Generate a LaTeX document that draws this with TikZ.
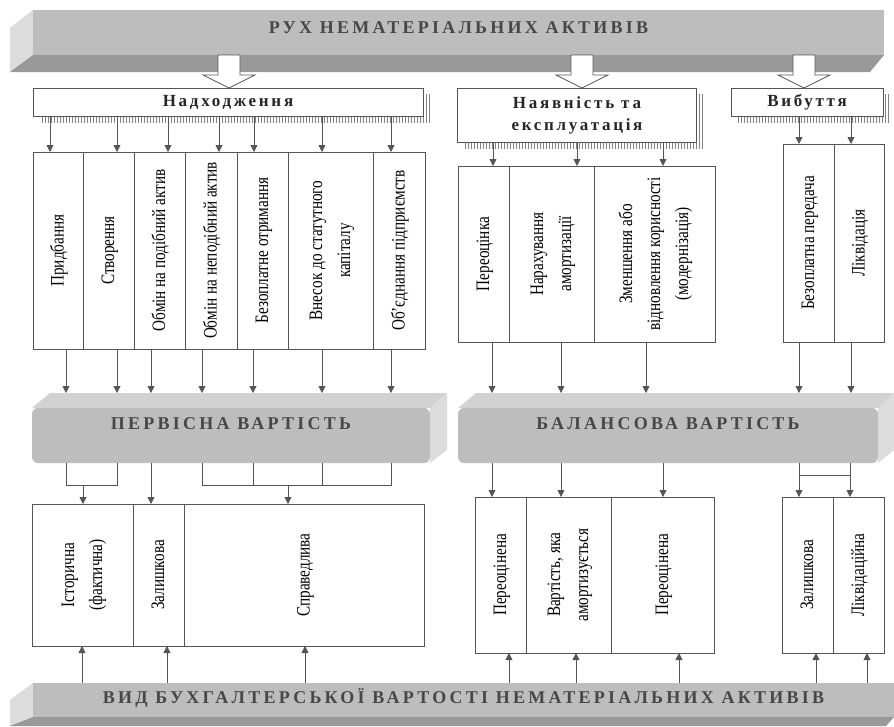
\documentclass[tikz,border=0pt]{standalone}
\usepackage{fontspec}
\usepackage{graphicx}
\setmainfont{Liberation Serif}
\newfontfamily\colfont[FakeStretch=0.8]{Liberation Serif}
\newfontfamily\barfont[LetterSpace=18]{Liberation Serif}
\newfontfamily\hdrfont[LetterSpace=16]{Liberation Serif}
\usetikzlibrary{arrows.meta,positioning,patterns,backgrounds}
\definecolor{linegray}{HTML}{555555}
\definecolor{barfront}{HTML}{BDBDBD}
\definecolor{bartop}{HTML}{D2D2D2}
\definecolor{barside}{HTML}{DCDCDC}
\definecolor{bardark}{HTML}{999999}
\newcommand{\vlabel}[1]{\rotatebox{90}{\begin{tabular}{@{}c@{}}#1\end{tabular}}}

\begin{document}
\begin{tikzpicture}[x=1pt,y=-1pt,
  arj/.style={draw=linegray,line width=0.8pt,-{Triangle[length=7pt,width=7pt]}},
  lnk/.style={draw=linegray,line width=0.8pt},
  cell/.style={draw=linegray,line width=0.8pt,fill=white,inner sep=0pt,outer sep=0pt,
    font=\colfont\fontsize{19}{28}\selectfont},
  hdr/.style={draw=linegray,line width=0.8pt,fill=white,inner sep=0pt,outer sep=0pt,
    align=center,font=\hdrfont\bfseries\fontsize{17}{22}\selectfont,text=black!85},
  hatch/.style={pattern=vertical lines,pattern color=gray},
  bar/.style={inner sep=0pt,outer sep=0pt,text=black!72,
    font=\barfont\bfseries\fontsize{18}{20}\selectfont},
  hollow/.style={draw=linegray,fill=white,line width=0.8pt}]
\useasboundingbox (0,0) rectangle (894,726);

% top banner
\fill[barside] (10,28) -- (33,10) -- (33,55) -- (10,72) -- cycle;
\fill[bardark] (33,55) -- (884,55) -- (870,72) -- (10,72) -- cycle;
\node[bar,fill=barfront,anchor=north west,minimum width=851pt,text height=23pt,text depth=22pt]
  (move) at (33,10) {РУХ НЕМАТЕРІАЛЬНИХ АКТИВІВ};

% headers
\node[hdr,minimum width=390pt,minimum height=28pt] (inflow) at (228,102) {Надходження};
\node[hdr,minimum width=239pt,minimum height=54pt] (usage) at (577,115) {Наявність та\\експлуатація};
\node[hdr,minimum width=152pt,minimum height=28pt] (outflow) at (807,102) {Вибуття};
\begin{scope}[on background layer]
  \foreach \h in {inflow,usage,outflow}
    \fill[hatch] ([shift={(7,6)}]\h.north west) rectangle ([shift={(7,6)}]\h.south east);
\end{scope}
\foreach \x/\t in {229/inflow,582/usage,804/outflow}
  \draw[hollow] (move.south -| \x,0) ++(-11,0) -- ++(22,0) -- ++(0,20) -- ++(15,0)
    -- (\t.north -| \x,0) -- ++(-26,-13) -- ++(15,0) -- cycle;

% upper columns
\node[cell,minimum width=50pt,minimum height=197pt,anchor=north west] (c1) at (33,152) {\vlabel{Придбання}};
\node[cell,minimum width=51pt,minimum height=197pt,right=0pt of c1] (c2) {\vlabel{Створення}};
\node[cell,minimum width=51pt,minimum height=197pt,right=0pt of c2] (c3) {\vlabel{Обмін на подібний актив}};
\node[cell,minimum width=52pt,minimum height=197pt,right=0pt of c3] (c4) {\vlabel{Обмін на неподібний актив}};
\node[cell,minimum width=51pt,minimum height=197pt,right=0pt of c4] (c5) {\vlabel{Безоплатне отримання}};
\node[cell,minimum width=85pt,minimum height=197pt,right=0pt of c5] (c6) {\vlabel{Внесок до статутного\\капіталу}};
\node[cell,minimum width=52pt,minimum height=197pt,right=0pt of c6] (c7) {\vlabel{Об’єднання підприємств}};

\node[cell,minimum width=51pt,minimum height=176pt,anchor=north west] (m1) at (458,166) {\vlabel{Переоцінка}};
\node[cell,minimum width=85pt,minimum height=176pt,right=0pt of m1] (m2) {\vlabel{Нарахування\\амортизації}};
\node[cell,minimum width=121pt,minimum height=176pt,right=0pt of m2] (m3) {\vlabel{Зменшення або\\відновлення корисності\\(модернізація)}};

\node[cell,minimum width=51pt,minimum height=198pt,anchor=north west] (r1) at (783,144) {\vlabel{Безоплатна передача}};
\node[cell,minimum width=50pt,minimum height=198pt,right=0pt of r1] (r2) {\vlabel{Ліквідація}};

\foreach \x/\c in {50/c1,117/c2,168/c3,219/c4,254/c5,322/c6,391/c7}
  \draw[arj] (inflow.south -| \x,0) -- (\c.north -| \x,0);
\foreach \x/\c in {493/m1,577/m2,663/m3}
  \draw[arj] (usage.south -| \x,0) -- (\c.north -| \x,0);
\foreach \x/\c in {799/r1,851/r2}
  \draw[arj] (outflow.south -| \x,0) -- (\c.north -| \x,0);

% middle bars
\fill[bartop] (32,408) -- (50,393) -- (447,393) -- (430,408) -- cycle;
\fill[barside] (430,408) -- (447,393) -- (447,450) -- (430,463) -- cycle;
\node[bar,fill=barfront,rounded corners=6pt,anchor=north west,minimum width=398pt,text height=21pt,text depth=34pt]
  (initial) at (32,408) {ПЕРВІСНА ВАРТІСТЬ};
\coordinate (initTop) at (50,393);

\fill[bartop] (458,408) -- (476,393) -- (894,393) -- (878,408) -- cycle;
\fill[barside] (878,408) -- (894,393) -- (894,450) -- (878,463) -- cycle;
\node[bar,fill=barfront,rounded corners=6pt,anchor=north west,minimum width=420pt,text height=21pt,text depth=34pt]
  (carrying) at (458,408) {БАЛАНСОВА ВАРТІСТЬ};
\coordinate (carryTop) at (476,393);

\foreach \x/\c in {66/c1,117/c2,151/c3,202/c4,253/c5,322/c6,391/c7}
  \draw[arj] (\c.south -| \x,0) -- (initTop -| \x,0);
\foreach \x/\c in {492/m1,561/m2,646/m3,799/r1,851/r2}
  \draw[arj] (\c.south -| \x,0) -- (carryTop -| \x,0);

% lower boxes
\node[cell,minimum width=101pt,minimum height=142pt,anchor=north west] (l1) at (32,504) {\vlabel{Історична\\(фактична)}};
\node[cell,minimum width=51pt,minimum height=142pt,right=0pt of l1] (l2) {\vlabel{Залишкова}};
\node[cell,minimum width=240pt,minimum height=142pt,right=0pt of l2] (l3) {\vlabel{Справедлива}};

\node[cell,minimum width=51pt,minimum height=156pt,anchor=north west] (n1) at (475,497) {\vlabel{Переоцінена}};
\node[cell,minimum width=85pt,minimum height=156pt,right=0pt of n1] (n2) {\vlabel{Вартість, яка\\амортизується}};
\node[cell,minimum width=103pt,minimum height=156pt,right=0pt of n2] (n3) {\vlabel{Переоцінена}};

\node[cell,minimum width=51pt,minimum height=156pt,anchor=north west] (q1) at (782,497) {\vlabel{Залишкова}};
\node[cell,minimum width=51pt,minimum height=156pt,right=0pt of q1] (q2) {\vlabel{Ліквідаційна}};

\coordinate (j1) at (83,485);
\coordinate (j2) at (288,485);
\coordinate (j3) at (799,475);
\draw[lnk] (initial.south -| 66,0) |- (j1 -| 117,0) -- (initial.south -| 117,0);
\draw[arj] (j1) -- (l1.north -| j1);
\draw[arj] (initial.south -| 151,0) -- (l2.north -| 151,0);
\draw[lnk] (initial.south -| 202,0) |- (j2 -| 391,0) -- (initial.south -| 391,0);
\foreach \x in {253,322}
  \draw[lnk] (initial.south -| \x,0) -- (j2 -| \x,0);
\draw[arj] (j2) -- (l3.north -| j2);

\foreach \x/\c in {492/n1,561/n2,663/n3,799/q1,850/q2}
  \draw[arj] (carrying.south -| \x,0) -- (\c.north -| \x,0);
\draw[lnk] (j3) -- (j3 -| 850,0);

% bottom banner
\fill[barside] (10,700) -- (33,683) -- (33,717) -- (10,726) -- cycle;
\fill[bardark] (33,717) -- (894,717) -- (886,726) -- (10,726) -- cycle;
\node[bar,fill=barfront,anchor=north west,minimum width=861pt,text height=20pt,text depth=14pt]
  (kind) at (33,683) {ВИД БУХГАЛТЕРСЬКОЇ ВАРТОСТІ НЕМАТЕРІАЛЬНИХ АКТИВІВ};

\foreach \x/\c in {82/l1,167/l2,305/l3,509/n1,576/n2,679/n3,816/q1,867/q2}
  \draw[arj] (kind.north -| \x,0) -- (\c.south -| \x,0);
\end{tikzpicture}
\end{document}
